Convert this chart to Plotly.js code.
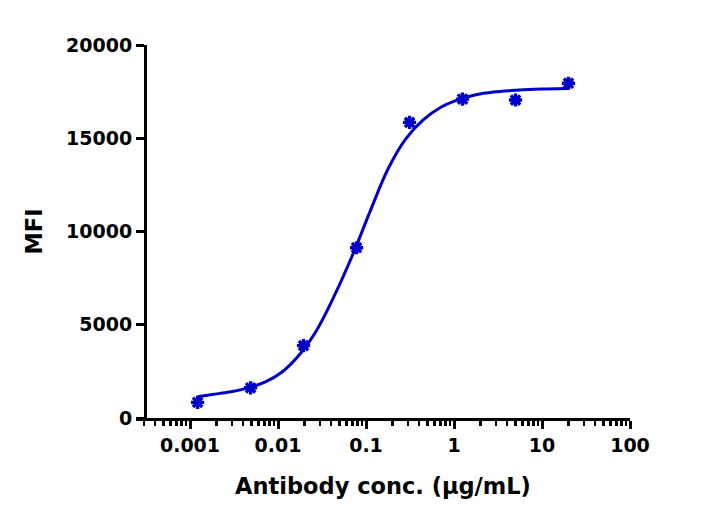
<!DOCTYPE html>
<html>
<head>
<meta charset="utf-8">
<script src="https://cdn.plot.ly/plotly-3.0.1.min.js"></script>
<style>
html,body{margin:0;padding:0;background:#fff;}
#chart{width:708px;height:526px;}
</style>
</head>
<body>
<div id="chart"></div>
<script>
// Measured points
const conc = [0.00122, 0.00488, 0.0195, 0.0781, 0.3125, 1.25, 5, 20];
const mfi = [840, 1620, 3880, 9130, 15850, 17100, 17050, 17950];

// Fitted curve
const fitX = [0.00122, 0.001778, 0.002818, 0.004467, 0.007079, 0.01122, 0.01778, 0.02818, 0.04467, 0.07079, 0.1122, 0.1778, 0.2818, 0.4467, 0.7079, 1.122, 1.778, 2.818, 4.467, 7.079, 11.22, 20];
const fitY = [1140, 1260, 1390, 1600, 1920, 2480, 3430, 4790, 6650, 8770, 11120, 13350, 14950, 15980, 16660, 17070, 17330, 17480, 17560, 17610, 17640, 17670];

// Axis ticks
const xTickVals = [0.001, 0.01, 0.1, 1, 10, 100];
const xTickText = ["0.001", "0.01", "0.1", "1", "10", "100"];
const yTickVals = [0, 5000, 10000, 15000, 20000];

const blue = "rgb(0,0,200)";
const fnt = "DejaVu Sans";

const traces = [
  {
    x: fitX, y: fitY, type: "scatter", mode: "lines",
    line: {color: blue, width: 3, shape: "spline", smoothing: 1},
    hoverinfo: "skip", showlegend: false
  },
  {
    x: conc, y: mfi, type: "scatter", mode: "markers",
    marker: {symbol: "asterisk-open", size: 11, color: blue, line: {color: blue, width: 3.4}},
    hoverinfo: "skip", showlegend: false
  }
];

const layout = {
  width: 708, height: 526,
  margin: {l: 136, r: 78, t: 45, b: 108},
  paper_bgcolor: "#fff", plot_bgcolor: "#fff",
  font: {family: fnt, color: "#000"},
  showlegend: false,
  xaxis: {
    type: "log",
    range: [-3.6136, 2.0],
    showgrid: false, zeroline: false,
    showline: true, linecolor: "#000", linewidth: 3,
    ticks: "outside", ticklen: 8, tickwidth: 3, tickcolor: "#000",
    tickvals: xTickVals, ticktext: xTickText,
    tickfont: {family: fnt, size: 19, color: "#000", weight: "bold"},
    minor: {ticks: "outside", ticklen: 5, tickwidth: 2.5, tickcolor: "#000", dtick: "D1", showgrid: false},
    title: {text: "<b>Antibody conc. (µg/mL)</b>", font: {family: fnt, size: 22.5, color: "#000"}, standoff: 24}
  },
  yaxis: {
    range: [0, 20000],
    anchor: "free", position: 0.0182,
    showgrid: false, zeroline: false,
    showline: true, linecolor: "#000", linewidth: 3,
    ticks: "outside", ticklen: 8, tickwidth: 3, tickcolor: "#000",
    tickvals: yTickVals,
    tickformat: "d",
    tickfont: {family: fnt, size: 19, color: "#000", weight: "bold"},
    title: {text: "<b>MFI</b>", font: {family: fnt, size: 22.5, color: "#000"}, standoff: 16}
  }
};

Plotly.newPlot("chart", traces, layout, {displayModeBar: false, staticPlot: true});
</script>
</body>
</html>
